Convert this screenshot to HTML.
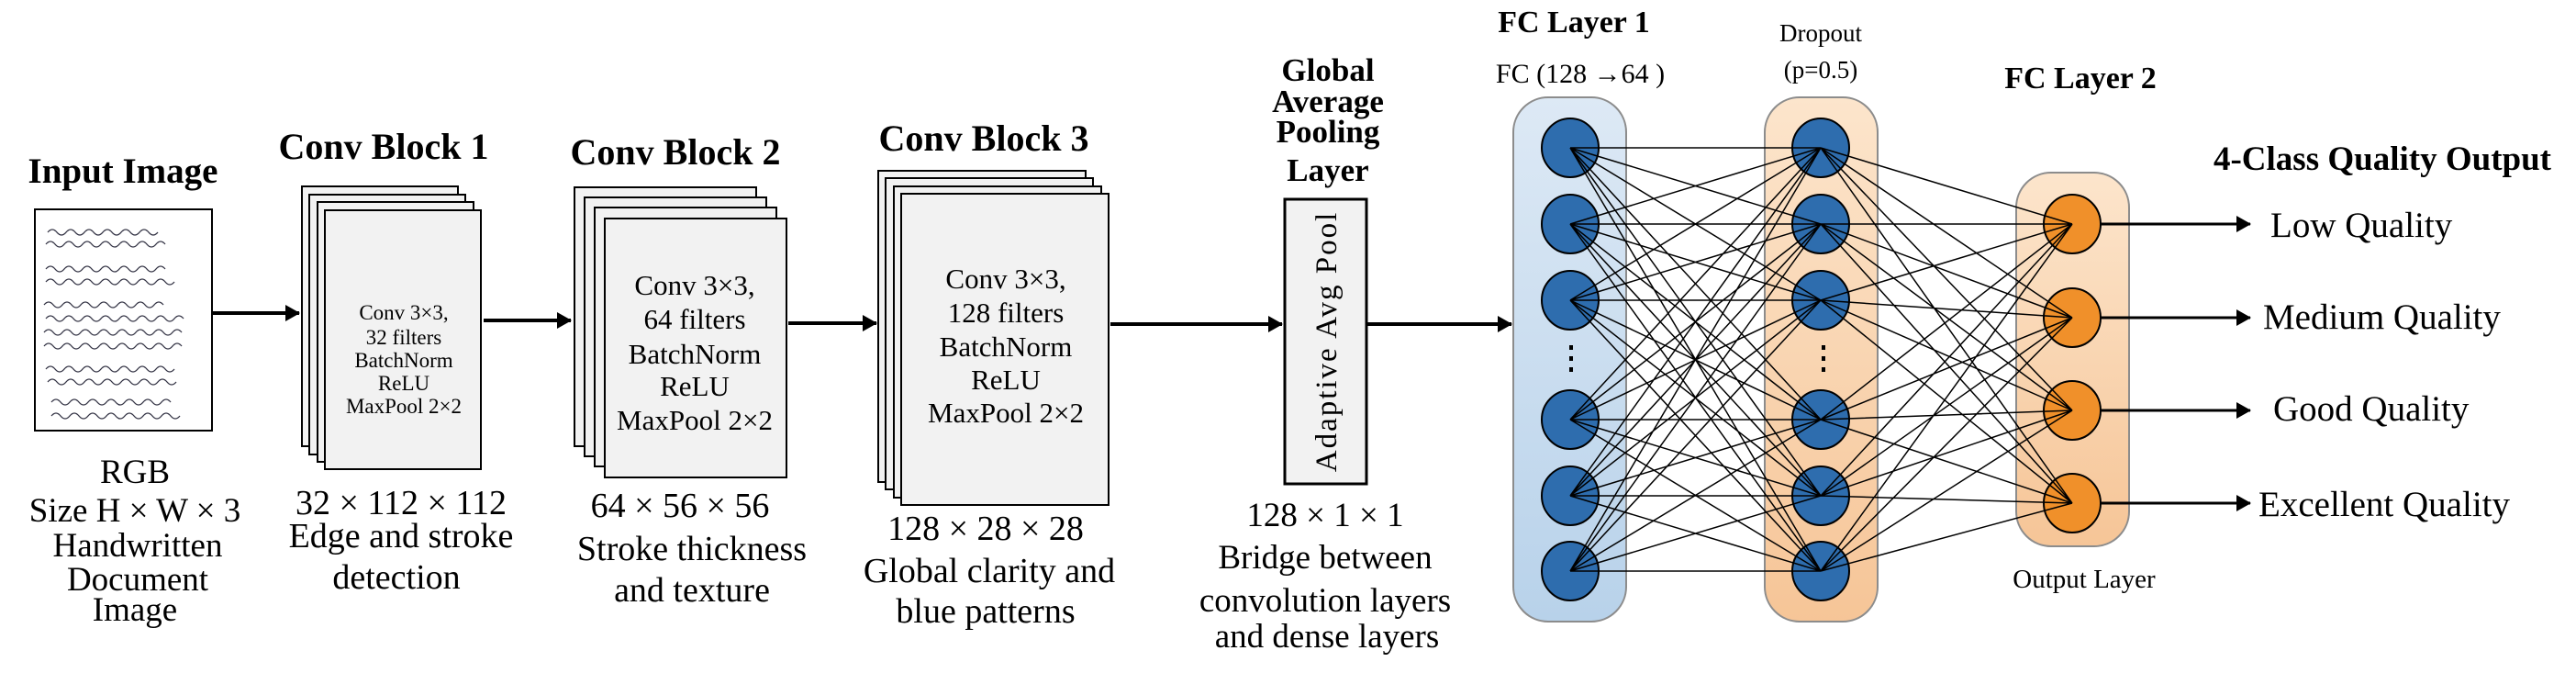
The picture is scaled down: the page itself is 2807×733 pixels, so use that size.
<!DOCTYPE html>
<html><head><meta charset="utf-8"><style>
html,body{margin:0;padding:0;background:#fff}
svg{display:block}
text{font-family:"Liberation Serif",serif;fill:#000}
.b{font-weight:bold}
</style></head><body>
<svg width="2807" height="733" viewBox="0 0 2807 733" xmlns="http://www.w3.org/2000/svg">
<defs>
<linearGradient id="gb" x1="0" y1="0" x2="0" y2="1"><stop offset="0" stop-color="#dde9f5"/><stop offset="1" stop-color="#b8d2ea"/></linearGradient>
<linearGradient id="go" x1="0" y1="0" x2="0" y2="1"><stop offset="0" stop-color="#fce5cc"/><stop offset="1" stop-color="#f6c597"/></linearGradient>
<marker id="ar2" markerWidth="16" markerHeight="18" refX="15" refY="9" orient="auto" markerUnits="userSpaceOnUse"><path d="M0,0 L16,9 L0,18 z" fill="#000"/></marker>
</defs>

<!-- Input image -->
<text class="b" x="134" y="199" font-size="39" text-anchor="middle">Input Image</text>
<rect x="38" y="228" width="193" height="241" fill="#fff" stroke="#000" stroke-width="2"/>
<g stroke="#334" stroke-width="1.3" fill="none">
<path d="M52 253 q5 -6 10 0 t10 0 t10 0 t10 0 t10 0 t10 0 t10 0 t10 0 t10 0 t10 0 t10 0 t10 0"/>
<path d="M50 266 q5 -6 10 0 t10 0 t10 0 t10 0 t10 0 t10 0 t10 0 t10 0 t10 0 t10 0 t10 0 t10 0 t10 0"/>
<path d="M50 293 q5 -6 10 0 t10 0 t10 0 t10 0 t10 0 t10 0 t10 0 t10 0 t10 0 t10 0 t10 0 t10 0 t10 0"/>
<path d="M50 307 q5 -6 10 0 t10 0 t10 0 t10 0 t10 0 t10 0 t10 0 t10 0 t10 0 t10 0 t10 0 t10 0 t10 0 t10 0"/>
<path d="M48 332 q5 -6 10 0 t10 0 t10 0 t10 0 t10 0 t10 0 t10 0 t10 0 t10 0 t10 0 t10 0 t10 0 t10 0"/>
<path d="M50 347 q5 -6 10 0 t10 0 t10 0 t10 0 t10 0 t10 0 t10 0 t10 0 t10 0 t10 0 t10 0 t10 0 t10 0 t10 0 t10 0"/>
<path d="M48 362 q5 -6 10 0 t10 0 t10 0 t10 0 t10 0 t10 0 t10 0 t10 0 t10 0 t10 0 t10 0 t10 0 t10 0 t10 0 t10 0"/>
<path d="M48 377 q5 -6 10 0 t10 0 t10 0 t10 0 t10 0 t10 0 t10 0 t10 0 t10 0 t10 0 t10 0 t10 0 t10 0 t10 0 t10 0"/>
<path d="M50 402 q5 -6 10 0 t10 0 t10 0 t10 0 t10 0 t10 0 t10 0 t10 0 t10 0 t10 0 t10 0 t10 0 t10 0 t10 0"/>
<path d="M52 416 q5 -6 10 0 t10 0 t10 0 t10 0 t10 0 t10 0 t10 0 t10 0 t10 0 t10 0 t10 0 t10 0 t10 0 t10 0"/>
<path d="M56 438 q5 -6 10 0 t10 0 t10 0 t10 0 t10 0 t10 0 t10 0 t10 0 t10 0 t10 0 t10 0 t10 0 t10 0"/>
<path d="M56 453 q5 -6 10 0 t10 0 t10 0 t10 0 t10 0 t10 0 t10 0 t10 0 t10 0 t10 0 t10 0 t10 0 t10 0 t10 0"/>
</g>
<g font-size="37" text-anchor="middle">
<text x="147" y="526">RGB</text>
<text x="147" y="568">Size H × W × 3</text>
<text x="150" y="606">Handwritten</text>
<text x="150" y="643">Document</text>
<text x="147" y="676">Image</text>
</g>
<line x1="232" y1="341" x2="326" y2="341" stroke="#000" stroke-width="4" marker-end="url(#ar2)"/>

<!-- Conv Block 1 -->
<text class="b" x="418" y="173" font-size="40" text-anchor="middle">Conv Block 1</text>
<g fill="#f2f2f2" stroke="#000" stroke-width="2">
<rect x="329" y="203" width="170" height="283"/>
<rect x="337" y="212" width="170" height="283"/>
<rect x="346" y="220" width="170" height="283"/>
<rect x="354" y="229" width="170" height="282"/>
</g>
<g font-size="23" text-anchor="middle">
<text x="440" y="348">Conv 3×3,</text>
<text x="440" y="375">32 filters</text>
<text x="440" y="400">BatchNorm</text>
<text x="440" y="425">ReLU</text>
<text x="440" y="450">MaxPool 2×2</text>
</g>
<g font-size="38" text-anchor="middle">
<text x="437" y="560">32 × 112 × 112</text>
<text x="437" y="596">Edge and stroke</text>
<text x="432" y="641">detection</text>
</g>
<line x1="527" y1="349" x2="622" y2="349" stroke="#000" stroke-width="4" marker-end="url(#ar2)"/>

<!-- Conv Block 2 -->
<text class="b" x="736" y="179" font-size="40" text-anchor="middle">Conv Block 2</text>
<g fill="#f2f2f2" stroke="#000" stroke-width="2">
<rect x="626" y="204" width="198" height="282"/>
<rect x="637" y="215" width="198" height="282"/>
<rect x="648" y="226" width="198" height="282"/>
<rect x="659" y="238" width="198" height="282"/>
</g>
<g font-size="31" text-anchor="middle">
<text x="757" y="321">Conv 3×3,</text>
<text x="757" y="358">64 filters</text>
<text x="757" y="396">BatchNorm</text>
<text x="757" y="431">ReLU</text>
<text x="757" y="468">MaxPool 2×2</text>
</g>
<g font-size="38" text-anchor="middle">
<text x="741" y="563">64 × 56 × 56</text>
<text x="754" y="610">Stroke thickness</text>
<text x="754" y="655">and texture</text>
</g>
<line x1="859" y1="352" x2="955" y2="352" stroke="#000" stroke-width="4" marker-end="url(#ar2)"/>

<!-- Conv Block 3 -->
<text class="b" x="1072" y="164" font-size="40" text-anchor="middle">Conv Block 3</text>
<g fill="#f2f2f2" stroke="#000" stroke-width="2">
<rect x="957" y="186" width="226" height="339"/>
<rect x="965" y="194" width="226" height="339"/>
<rect x="974" y="203" width="226" height="339"/>
<rect x="982" y="211" width="226" height="339"/>
</g>
<g font-size="31" text-anchor="middle">
<text x="1096" y="314">Conv 3×3,</text>
<text x="1096" y="351">128 filters</text>
<text x="1096" y="388">BatchNorm</text>
<text x="1096" y="424">ReLU</text>
<text x="1096" y="460">MaxPool 2×2</text>
</g>
<g font-size="38" text-anchor="middle">
<text x="1074" y="588">128 × 28 × 28</text>
<text x="1078" y="634">Global clarity and</text>
<text x="1074" y="678">blue patterns</text>
</g>
<line x1="1210" y1="353" x2="1397" y2="353" stroke="#000" stroke-width="4" marker-end="url(#ar2)"/>

<!-- GAP -->
<g font-size="35" text-anchor="middle">
<text class="b" x="1447" y="88">Global</text>
<text class="b" x="1447" y="122">Average</text>
<text class="b" x="1447" y="155">Pooling</text>
<text class="b" x="1447" y="197">Layer</text>
</g>
<rect x="1400" y="217" width="89" height="310" fill="#f2f2f2" stroke="#000" stroke-width="3"/>
<text x="0" y="0" font-size="33" text-anchor="middle" letter-spacing="2" transform="translate(1456,372) rotate(-90)">Adaptive Avg Pool</text>
<g font-size="37" text-anchor="middle">
<text x="1444" y="573">128 × 1 × 1</text>
<text x="1444" y="619">Bridge between</text>
<text x="1444" y="666">convolution layers</text>
<text x="1446" y="705">and dense layers</text>
</g>
<line x1="1490" y1="353" x2="1647" y2="353" stroke="#000" stroke-width="4" marker-end="url(#ar2)"/>

<!-- Panels -->
<rect x="1649" y="106" width="123" height="571" rx="38" fill="url(#gb)" stroke="#8c8c8c" stroke-width="2"/>
<rect x="1923" y="106" width="123" height="571" rx="38" fill="url(#go)" stroke="#8c8c8c" stroke-width="2"/>
<rect x="2197" y="188" width="123" height="407" rx="38" fill="url(#go)" stroke="#8c8c8c" stroke-width="2"/>

<text class="b" x="1715" y="35" font-size="34" text-anchor="middle">FC Layer 1</text>
<text x="1722" y="90" font-size="30" text-anchor="middle">FC (128 →64 )</text>
<text x="1984" y="45" font-size="27" text-anchor="middle">Dropout</text>
<text x="1984" y="85" font-size="27" text-anchor="middle">(p=0.5)</text>
<text class="b" x="2267" y="96" font-size="34" text-anchor="middle">FC Layer 2</text>
<text x="2271" y="640" font-size="29" text-anchor="middle">Output Layer</text>

<!-- nodes -->
<g fill="#2e6dae" stroke="#000" stroke-width="2">
<ellipse cx="1711" cy="161" rx="31" ry="32"/>
<ellipse cx="1711" cy="244" rx="31" ry="32"/>
<ellipse cx="1711" cy="327" rx="31" ry="32"/>
<ellipse cx="1711" cy="457" rx="31" ry="32"/>
<ellipse cx="1711" cy="540" rx="31" ry="32"/>
<ellipse cx="1711" cy="622" rx="31" ry="32"/>
<ellipse cx="1984" cy="161" rx="31" ry="32"/>
<ellipse cx="1984" cy="244" rx="31" ry="32"/>
<ellipse cx="1984" cy="327" rx="31" ry="32"/>
<ellipse cx="1984" cy="457" rx="31" ry="32"/>
<ellipse cx="1984" cy="540" rx="31" ry="32"/>
<ellipse cx="1984" cy="622" rx="31" ry="32"/>
</g>
<g fill="#f0902a" stroke="#000" stroke-width="2">
<ellipse cx="2258" cy="244" rx="31" ry="32"/>
<ellipse cx="2258" cy="346" rx="31" ry="32"/>
<ellipse cx="2258" cy="447" rx="31" ry="32"/>
<ellipse cx="2258" cy="548" rx="31" ry="32"/>
</g>
<g fill="#000">
<rect x="1710" y="376" width="4" height="5"/><rect x="1710" y="388" width="4" height="5"/><rect x="1710" y="400" width="4" height="5"/>
<rect x="1985" y="376" width="4" height="5"/><rect x="1985" y="388" width="4" height="5"/><rect x="1985" y="400" width="4" height="5"/>
</g>

<!-- connections (on top of nodes) -->
<g stroke="#000" stroke-width="1.5">
<path d="
M1711 161L1984 161M1711 161L1984 244M1711 161L1984 327M1711 161L1984 457M1711 161L1984 540M1711 161L1984 622
M1711 244L1984 161M1711 244L1984 244M1711 244L1984 327M1711 244L1984 457M1711 244L1984 540M1711 244L1984 622
M1711 327L1984 161M1711 327L1984 244M1711 327L1984 327M1711 327L1984 457M1711 327L1984 540M1711 327L1984 622
M1711 457L1984 161M1711 457L1984 244M1711 457L1984 327M1711 457L1984 457M1711 457L1984 540M1711 457L1984 622
M1711 540L1984 161M1711 540L1984 244M1711 540L1984 327M1711 540L1984 457M1711 540L1984 540M1711 540L1984 622
M1711 622L1984 161M1711 622L1984 244M1711 622L1984 327M1711 622L1984 457M1711 622L1984 540M1711 622L1984 622
M1984 161L2258 244M1984 161L2258 346M1984 161L2258 447M1984 161L2258 548
M1984 244L2258 244M1984 244L2258 346M1984 244L2258 447M1984 244L2258 548
M1984 327L2258 244M1984 327L2258 346M1984 327L2258 447M1984 327L2258 548
M1984 457L2258 244M1984 457L2258 346M1984 457L2258 447M1984 457L2258 548
M1984 540L2258 244M1984 540L2258 346M1984 540L2258 447M1984 540L2258 548
M1984 622L2258 244M1984 622L2258 346M1984 622L2258 447M1984 622L2258 548"/>
</g>

<!-- outputs -->
<g stroke="#000" stroke-width="3">
<line x1="2289" y1="244" x2="2452" y2="244" marker-end="url(#ar2)"/>
<line x1="2289" y1="346" x2="2452" y2="346" marker-end="url(#ar2)"/>
<line x1="2289" y1="447" x2="2452" y2="447" marker-end="url(#ar2)"/>
<line x1="2289" y1="548" x2="2452" y2="548" marker-end="url(#ar2)"/>
</g>
<text class="b" x="2596" y="185" font-size="37" text-anchor="middle">4-Class Quality Output</text>
<g font-size="39">
<text x="2474" y="258">Low Quality</text>
<text x="2466" y="358">Medium Quality</text>
<text x="2477" y="458">Good Quality</text>
<text x="2461" y="562">Excellent Quality</text>
</g>
</svg>
</body></html>
